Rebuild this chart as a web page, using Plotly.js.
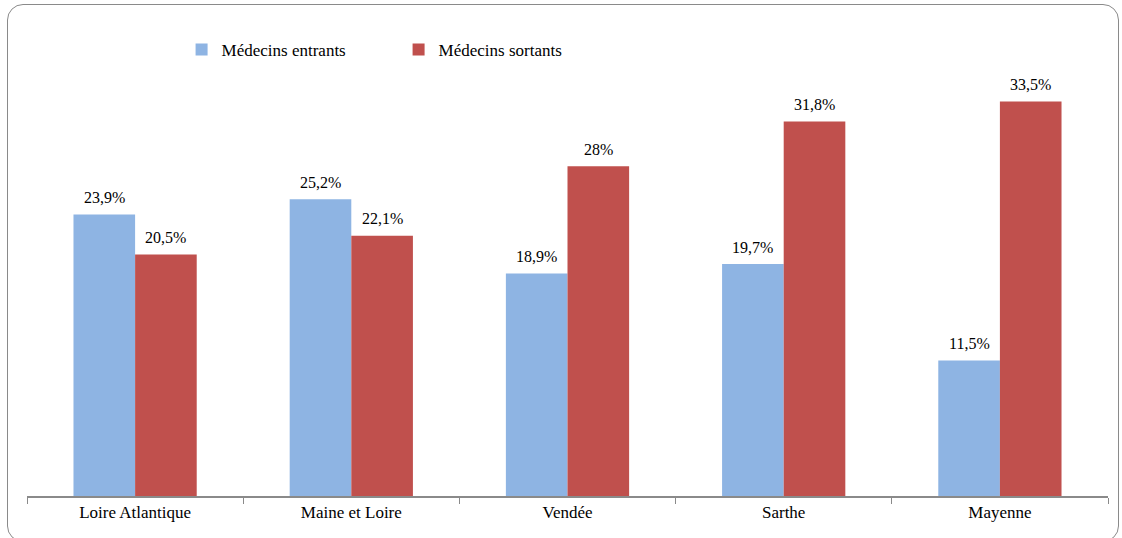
<!DOCTYPE html>
<html><head><meta charset="utf-8">
<script src="https://cdn.plot.ly/plotly-3.0.1.min.js"></script>
<style>
html,body{margin:0;padding:0;background:#fff;}
#wrap{position:relative;width:1122px;height:538px;}
#chart{width:1122px;height:538px;}
#frame{position:absolute;left:7px;top:4px;width:1112px;height:538px;border:1.5px solid #8a8a8a;border-radius:16px;pointer-events:none;box-sizing:border-box;}
</style></head>
<body>
<div id="wrap"><div id="chart"></div><div id="frame"></div></div>
<script>
const categories = ["Loire Atlantique", "Maine et Loire", "Vendée", "Sarthe", "Mayenne"];
const entrants = [23.9, 25.2, 18.9, 19.7, 11.5];
const sortants = [20.5, 22.1, 28, 31.8, 33.5];
const seriesNames = ["Médecins entrants", "Médecins sortants"];

const fam = "Liberation Serif, Times New Roman, serif";
const traces = [
  {type: "bar", name: seriesNames[0], x: categories, y: entrants, marker: {color: "#8EB4E3"}},
  {type: "bar", name: seriesNames[1], x: categories, y: sortants, marker: {color: "#C0504D"}}
];
const fmt = v => String(v).replace(".", ",") + "%";
const annotations = [];
[[entrants, -30.8], [sortants, 30.8]].forEach(([vals, dx]) => {
  vals.forEach((v, i) => annotations.push({
    x: categories[i], y: v, xref: "x", yref: "y", text: fmt(v), showarrow: false,
    xshift: dx, yshift: 17, font: {family: fam, size: 16, color: "#000"}
  }));
});
const layout = {
  width: 1122, height: 538,
  margin: {l: 27, r: 14, t: 25, b: 42},
  paper_bgcolor: "#fff", plot_bgcolor: "#fff",
  font: {family: fam, size: 17, color: "#000"},
  barmode: "group", bargap: 0.43, bargroupgap: 0,
  showlegend: true,
  legend: {orientation: "h", x: 0.143, xanchor: "left", y: 0.947, yanchor: "middle",
           font: {family: fam, size: 17, color: "#000"}, itemwidth: 30, tracegroupgap: 0,
           entrywidth: 172, entrywidthmode: "pixels"},
  xaxis: {type: "category", showline: true, linecolor: "#8a8a8a", linewidth: 1.5,
          ticks: "outside", tickson: "boundaries", ticklen: 6, tickcolor: "#8a8a8a",
          showgrid: false, zeroline: false, tickfont: {family: fam, size: 17, color: "#000"}},
  yaxis: {range: [0, 40], visible: false, showgrid: false, zeroline: false},
  annotations: annotations
};
Plotly.newPlot("chart", traces, layout, {staticPlot: true});
</script>
</body></html>
